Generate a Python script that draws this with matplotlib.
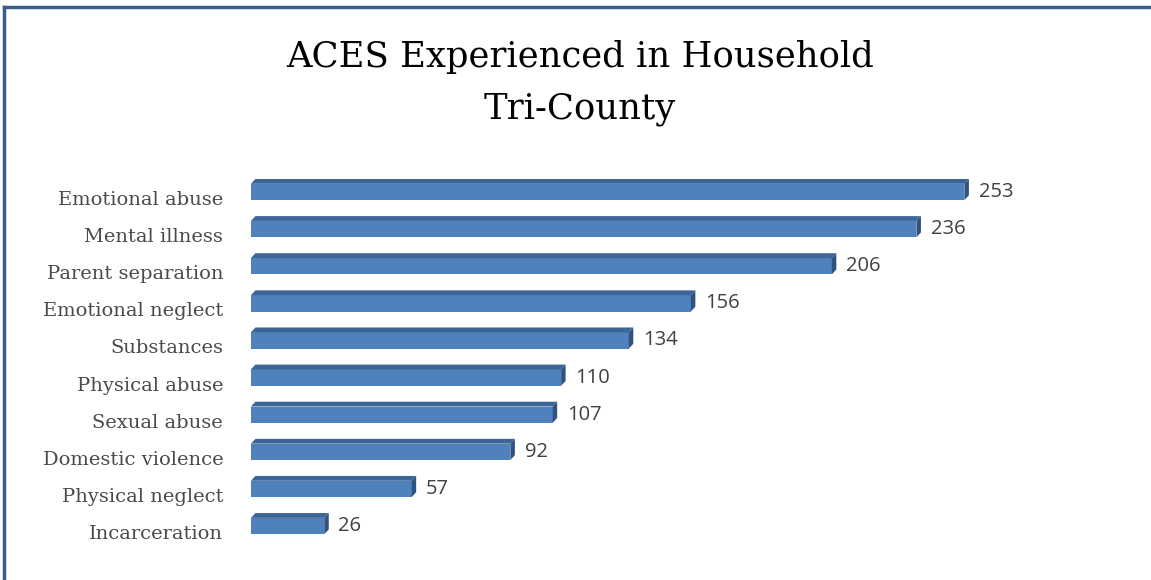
import matplotlib.pyplot as plt
import matplotlib.transforms as mtransforms
from matplotlib.patches import Polygon
from matplotlib.lines import Line2D

categories = ['Emotional abuse', 'Mental illness', 'Parent separation',
              'Emotional neglect', 'Substances', 'Physical abuse',
              'Sexual abuse', 'Domestic violence', 'Physical neglect',
              'Incarceration']
counts = [253, 236, 206, 156, 134, 110, 107, 92, 57, 26]

front = '#4f81bd'
top_c = '#3e6597'
side_c = '#2f5381'

fig = plt.figure(figsize=(11.51, 5.8), dpi=100)
ax = fig.add_axes([0.218, 0.061, 0.735, 0.640])

pos = list(range(len(categories)))
h = 0.44
# depth of the 3d effect in data units
dx = 1.6
dy = 0.13

ax.barh(pos, counts, height=h, color=front, zorder=2)
for y, v in zip(pos, counts):
    yt = y - h / 2
    yb = y + h / 2
    ax.add_patch(Polygon([(0, yt), (v, yt), (v + dx, yt - dy), (dx, yt - dy)],
                         closed=True, color=top_c, lw=0, zorder=3))
    ax.add_patch(Polygon([(v, yt), (v + dx, yt - dy), (v + dx, yb - dy), (v, yb)],
                         closed=True, color=side_c, lw=0, zorder=3))
    ax.annotate(str(v), (v + dx, y), xytext=(7, 0), textcoords='offset points',
                va='center', ha='left', fontsize=14.5, color='#404040',
                family='Open Sans')

ax.set_xlim(0, 300)
ax.set_ylim(len(categories) - 0.5, -0.5)
ax.set_yticks(pos)
ax.set_yticklabels(categories, family='DejaVu Serif', fontsize=14, color='#4a4a4a')
ax.tick_params(axis='y', length=0, pad=20)
# category names sit slightly below the bar centres
shift = mtransforms.ScaledTranslation(0, -6 / 100, fig.dpi_scale_trans)
for lab in ax.get_yticklabels():
    lab.set_transform(lab.get_transform() + shift)
ax.set_xticks([])
for s in ax.spines.values():
    s.set_visible(False)

fig.text(0.504, 1 - 67 / 580, 'ACES Experienced in Household', ha='center',
         va='baseline', fontsize=25.5, family='DejaVu Serif', color='black')
fig.text(0.504, 1 - 118 / 580, 'Tri-County', ha='center',
         va='baseline', fontsize=25.5, family='DejaVu Serif', color='black')

# frame on the top and left edges
fig.add_artist(Line2D([0.0035, 1.0], [0.988, 0.988], color='#385d8a', lw=2.5))
fig.add_artist(Line2D([0.0035, 0.0035], [0.0, 0.988], color='#385d8a', lw=2.5))

fig.savefig('out.png', dpi=100)
